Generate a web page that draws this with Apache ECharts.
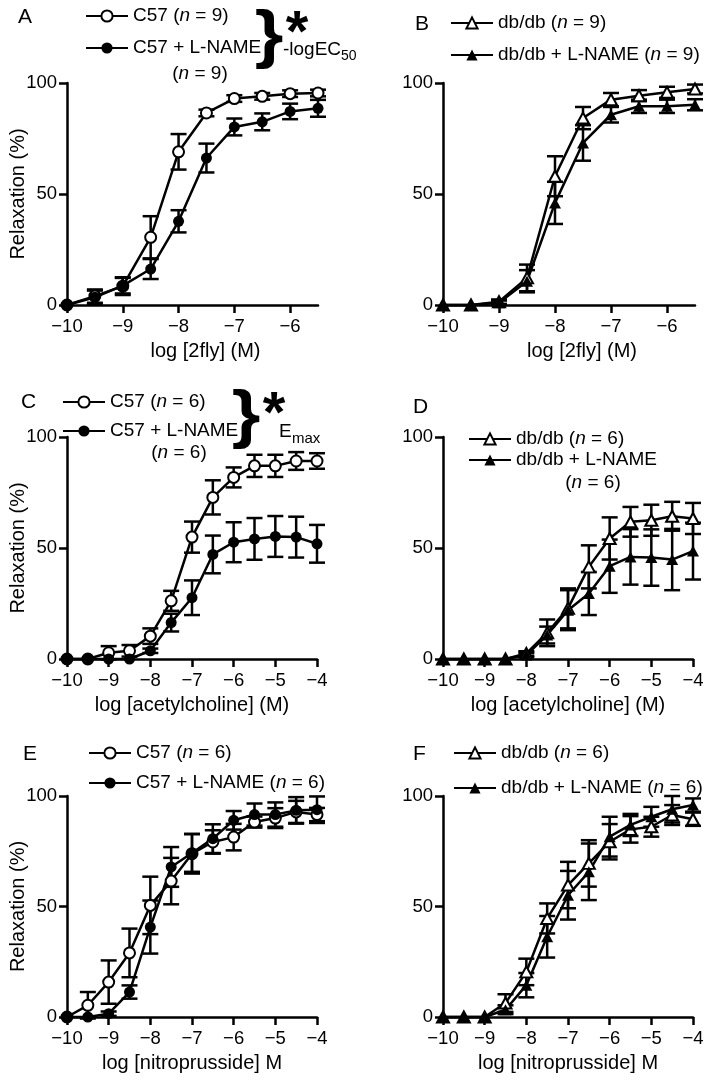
<!DOCTYPE html>
<html><head><meta charset="utf-8">
<script src="https://cdn.jsdelivr.net/npm/echarts@6/dist/echarts.min.js"></script>
<style>html,body{margin:0;padding:0;background:#fff}#c{width:709px;height:1081px}</style>
</head><body><div id="c"></div>
<script>
// ---- data ----
const xTop = [-10, -9.5, -9, -8.5, -8, -7.5, -7, -6.5, -6, -5.5];
const xLow = [-10, -9.5, -9, -8.5, -8, -7.5, -7, -6.5, -6, -5.5, -5, -4.5, -4];

const aC57 = [0, 4, 8.5, 30.5, 69, 86.5, 93, 94, 95.2, 95.5];
const aC57Err = [0, 3, 4, 9.5, 8, 1.5, 1.5, 1.5, 1.5, 1.5];
const aLN = [0, 3.5, 8.7, 16.2, 37.7, 66.2, 80.2, 82.5, 87.2, 88.6];
const aLNErr = [0, 3, 3.5, 4.5, 5, 6.5, 3.8, 3.8, 3.5, 3.8];

const bDb = [0, 0, 1.5, 12.2, 58, 84.2, 92.5, 94.3, 95.8, 97.3];
const bDbErr = [0, 0, 1, 6, 9, 5, 3, 2.5, 2.5, 2];
const bLN = [0, 0, 1, 10.7, 46, 73, 85.7, 89.5, 89.5, 90.2];
const bLNErr = [0, 0, 1, 5, 9.5, 8, 3.5, 3, 3, 2.5];

const cC57 = [0, 0, 2.8, 3.7, 10.3, 26.2, 54.9, 72.8, 81.8, 87, 87, 89.2, 89.2];
const cC57Err = [0, 0, 3, 2.6, 3.5, 4.5, 7, 7.7, 4.5, 5, 5, 4, 3.5];
const cLN = [0, 0, 0, 0, 3.7, 16.4, 27.6, 47.1, 52.6, 54.1, 55.2, 54.9, 51.9];
const cLNErr = [0, 0, 0, 0, 1, 4, 7.8, 8.5, 9, 9.4, 9.2, 9.2, 8.5];

const dDb = [0, 0, 0, 0, 2.5, 11.8, 22.8, 41.5, 54.3, 61.8, 62.5, 64.3, 63.3];
const dDbErr = [0, 0, 0, 0, 1, 6, 9, 9.7, 9.5, 6.7, 7, 6.5, 7];
const dLN = [0, 0, 0, 0, 1.8, 10.8, 22, 29.5, 41.8, 46, 45.7, 44.8, 48.6];
const dLNErr = [0, 0, 0, 0, 1, 3.8, 9, 9.7, 12, 12.5, 12.7, 13.8, 12.8];

const eC57 = [0, 5.3, 15.8, 29, 50.5, 61.5, 73.9, 79.2, 81.4, 88.2, 90, 92.8, 91.6];
const eC57Err = [0, 6, 9.8, 11, 13, 10.5, 9, 5.3, 6, 2.5, 4.5, 5, 3];
const eLN = [0, 0, 1.5, 11.3, 40.7, 67.9, 74.2, 80.7, 89, 91.6, 91.6, 93.5, 93.8];
const eLNErr = [0, 0, 1, 3, 12, 9, 8.5, 6.5, 4.2, 5, 5.5, 6, 6];

const fDb = [0, 0, 0, 6.3, 20.4, 44.6, 59.7, 69.5, 79.3, 84.9, 86.1, 91.4, 89.5];
const fDbErr = [0, 0, 0, 4, 6, 6.8, 10.5, 10.5, 8, 6, 4.5, 4.5, 3];
const fLN = [0, 0, 0, 3.3, 14.4, 36.3, 55.1, 65.7, 81.6, 86.9, 90.6, 94, 95.9];
const fLNErr = [0, 0, 0, 2, 5.5, 9.4, 11, 12.8, 9, 5, 4.5, 6, 3];

const yTicks = [0, 50, 100];
const xNames = ['log [2fly] (M)', 'log [2fly] (M)', 'log [acetylcholine] (M)', 'log [acetylcholine] (M)', 'log [nitroprusside] M', 'log [nitroprusside] M'];
const legendText = {
  A1: ['C57 (', ' = 9)'], A2: ['C57 + L-NAME'],
  B1: ['db/db (', ' = 9)'], B2: ['db/db + L-NAME (', ' = 9)'],
  C1: ['C57 (', ' = 6)'], C2: ['C57 + L-NAME'],
  D1: ['db/db (', ' = 6)'], D2: ['db/db + L-NAME'],
  E1: ['C57 (', ' = 6)'], E2: ['C57 + L-NAME (', ' = 6)'],
  F1: ['db/db (', ' = 6)'], F2: ['db/db + L-NAME (', ' = 6)']
};

// ---- layout ----
const FONT = '"Liberation Sans", Arial, sans-serif';
const grids = [
  {left: 67, top: 83, width: 251, height: 222},
  {left: 443, top: 83, width: 252, height: 222},
  {left: 67, top: 437, width: 250, height: 222},
  {left: 443, top: 437, width: 250, height: 222},
  {left: 67, top: 796, width: 250, height: 221},
  {left: 443, top: 796, width: 250, height: 221}
];
const xMax = [-5.5, -5.5, -4, -4, -4, -4];

const panels = [
  {xs: xTop, s: [[aC57, aC57Err, 'emptyCircle', 'A1'], [aLN, aLNErr, 'circle', 'A2']]},
  {xs: xTop, s: [[bDb, bDbErr, 'emptyTriangle', 'B1'], [bLN, bLNErr, 'triangle', 'B2']]},
  {xs: xLow, s: [[cC57, cC57Err, 'emptyCircle', 'C1'], [cLN, cLNErr, 'circle', 'C2']]},
  {xs: xLow, s: [[dDb, dDbErr, 'emptyTriangle', 'D1'], [dLN, dLNErr, 'triangle', 'D2']]},
  {xs: xLow, s: [[eC57, eC57Err, 'emptyCircle', 'E1'], [eLN, eLNErr, 'circle', 'E2']]},
  {xs: xLow, s: [[fDb, fDbErr, 'emptyTriangle', 'F1'], [fLN, fLNErr, 'triangle', 'F2']]}
];

const minus = v => String(v).replace('-', '\u2212');

function errRender(params, api) {
  const x = api.value(0), m = api.value(1), e = api.value(2);
  if (!e) return null;
  const t = api.coord([x, m + e]), b = api.coord([x, m - e]);
  const hw = 8, st = {stroke: '#000', lineWidth: 2.5};
  return {type: 'group', children: [
    {type: 'line', shape: {x1: t[0], y1: t[1], x2: b[0], y2: b[1]}, style: st},
    {type: 'line', shape: {x1: t[0] - hw, y1: t[1], x2: t[0] + hw, y2: t[1]}, style: st},
    {type: 'line', shape: {x1: b[0] - hw, y1: b[1], x2: b[0] + hw, y2: b[1]}, style: st}
  ]};
}

const xAxis = [], yAxis = [], series = [];
panels.forEach((p, i) => {
  xAxis.push({
    type: 'value', gridIndex: i, min: -10, max: xMax[i], interval: 1,
    name: xNames[i], nameLocation: 'middle', nameGap: 36, nameMoveOverlap: false,
    nameTextStyle: {fontSize: 20, color: '#000', fontFamily: FONT, padding: i < 2 ? [0, 0, 0, 26] : 0},
    axisLine: {lineStyle: {color: '#000', width: 2.5}},
    axisTick: {length: 8, lineStyle: {color: '#000', width: 2.5}},
    axisLabel: {fontSize: 18.5, color: '#000', fontFamily: FONT, margin: 12, formatter: minus},
    splitLine: {show: false}
  });
  yAxis.push({
    type: 'value', gridIndex: i, min: yTicks[0], max: yTicks[2], interval: yTicks[1],
    name: i % 2 === 0 ? 'Relaxation (%)' : '', nameLocation: 'middle', nameGap: 39, nameMoveOverlap: false,
    nameTextStyle: {fontSize: 20, color: '#000', fontFamily: FONT},
    axisLine: {show: true, lineStyle: {color: '#000', width: 2.5}},
    axisTick: {show: true, length: 8, lineStyle: {color: '#000', width: 2.5}},
    axisLabel: {fontSize: 18.5, color: '#000', fontFamily: FONT, margin: 10},
    splitLine: {show: false}
  });
  p.s.forEach(([vals, errs, sym, name]) => {
    series.push({
      type: 'custom', xAxisIndex: i, yAxisIndex: i, z: 1, clip: false,
      renderItem: errRender, encode: {x: 0, y: 1},
      data: p.xs.map((x, k) => [x, vals[k], errs[k]]), silent: true
    });
  });
  p.s.forEach(([vals, errs, sym, name]) => {
    const tri = sym.indexOf('riangle') > 0;
    series.push({
      type: 'line', name: name, xAxisIndex: i, yAxisIndex: i, z: 3, clip: false,
      symbol: sym, symbolSize: tri ? [12, 11] : 11,
      lineStyle: {color: '#000', width: 2.5},
      itemStyle: {color: '#000', borderWidth: 2.5},
      data: p.xs.map((x, k) => [x, vals[k]]), animation: false
    });
  });
});

const legPos = [
  {left: 85, top: 6.5, gap: 13, names: ['A1', 'A2']},
  {left: 450, top: 13.5, gap: 13, names: ['B1', 'B2']},
  {left: 62, top: 392.5, gap: 10, names: ['C1', 'C2']},
  {left: 468, top: 429.5, gap: 2, names: ['D1', 'D2']},
  {left: 88, top: 743.5, gap: 11, names: ['E1', 'E2']},
  {left: 453, top: 743.5, gap: 16, names: ['F1', 'F2']}
];
const legend = legPos.map(l => ({
  orient: 'vertical', left: l.left, top: l.top, padding: 0, itemGap: l.gap,
  itemWidth: 42, itemHeight: 14, selectedMode: false, data: l.names,
  formatter: name => {
    const t = legendText[name];
    return t.length > 1 ? '{t|' + t[0] + '}{i|n}{t|' + t[1] + '}' : '{t|' + t[0] + '}';
  },
  textStyle: {color: '#000', fontSize: 19, fontFamily: FONT,
    rich: {t: {fontSize: 19, fontFamily: FONT, color: '#000'}, i: {fontSize: 19, fontFamily: FONT, color: '#000', fontStyle: 'italic'}}}
}));

const txt = (x, y, text, size, extra) => ({
  type: 'text', x: x, y: y,
  style: Object.assign({text: text, fill: '#000', font: size + 'px ' + FONT, textAlign: 'left', textVerticalAlign: 'middle'}, extra || {})
});
const nText = (cx, cy, num) => ({
  type: 'text', x: cx, y: cy,
  style: {text: '{t|(}{i|n}{t| = ' + num + ')}', textAlign: 'center', textVerticalAlign: 'middle', fill: '#000',
    rich: {t: {fontSize: 19, fontFamily: FONT, color: '#000'}, i: {fontSize: 19, fontFamily: FONT, color: '#000', fontStyle: 'italic'}}}
});
const brace = (cx, cy) => ({type: 'text', x: cx, y: cy, scaleX: 1.15,
  style: {text: '}', fill: '#000', font: 'bold 64px ' + FONT, textAlign: 'center', textVerticalAlign: 'middle'}});
const star = (cx, cy) => ({type: 'text', x: cx, y: cy,
  style: {text: '*', fill: '#000', font: 'bold 58px ' + FONT, textAlign: 'center', textVerticalAlign: 'top'}});

const graphic = [
  txt(18, 17, 'A', 21), txt(415, 24, 'B', 21), txt(21, 402, 'C', 21),
  txt(413, 407, 'D', 21), txt(23, 754, 'E', 21), txt(413, 754, 'F', 21),
  nText(200, 74, 9), nText(179, 453, 6), nText(593, 483, 6),
  brace(269, 38), brace(246, 418),
  star(297, 6), star(274, 387),
  txt(283, 50, '-logEC', 19), txt(341, 56, '50', 14),
  txt(279, 432, 'E', 19), txt(292, 439, 'max', 15)
];

const chart = echarts.init(document.getElementById('c'), null, {renderer: 'canvas'});
chart.setOption({
  animation: false, backgroundColor: '#fff',
  grid: grids, xAxis: xAxis, yAxis: yAxis, series: series, legend: legend, graphic: graphic
});
</script></body></html>
